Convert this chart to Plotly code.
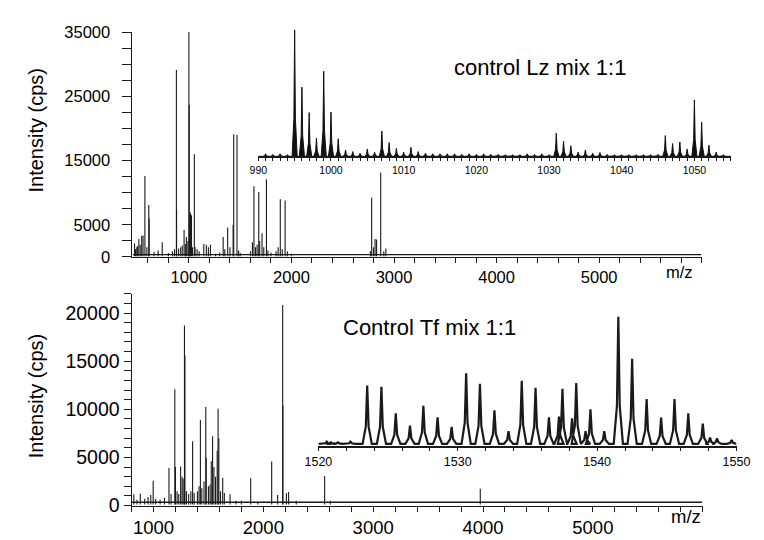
import plotly.graph_objects as go

# ---------------- data ----------------
# Top main spectrum (control Lz mix 1:1): m/z and intensity (cps)
lz_mz = [470, 480, 492, 500, 512, 525, 540, 553, 571, 590, 609, 612, 660, 700, 740, 800, 840, 860,
         878, 880, 900, 920, 935, 953, 965, 975, 990, 1000, 1003, 1008, 1016, 1025, 1035, 1053, 1060,
         1080, 1100, 1145, 1170, 1190, 1210, 1260, 1300, 1334, 1350, 1378, 1400, 1431, 1437, 1469,
         1485, 1500, 1600, 1619, 1634, 1650, 1665, 1681, 1690, 1713, 1730, 1756, 1770, 1800, 1850,
         1870, 1891, 1910, 1938, 1960, 2000, 2770, 2782, 2800, 2815, 2830, 2870, 2900, 2920]
lz_int = [2100, 1200, 1500, 1700, 2800, 1900, 3300, 3300, 12600, 1500, 8100, 6000, 800, 1000, 2300, 600, 900, 1200,
          29100, 7400, 1300, 1500, 1800, 4200, 2000, 3100, 2500, 35300, 23700, 7000, 6800, 6500, 1500, 16000, 1500,
          1200, 900, 2000, 1900, 1500, 1900, 500, 700, 3100, 1200, 4600, 1500, 5000, 19100, 19000,
          1000, 600, 900, 2300, 11000, 1500, 1900, 10100, 2500, 3700, 1500, 12100, 1000, 700, 900,
          1500, 9000, 1200, 8800, 900, 500, 900, 9200, 1500, 2800, 2700, 13100, 900, 1300]
lz_noise = 350

# Top inset (m/z 990-1055), relative heights
lz_zoom_mz = list(range(991, 1055))
lz_zoom_h = [8, 6, 8, 5, 397, 217, 137, 57, 267, 139, 55, 20, 15, 10, 23, 13, 79, 43, 25, 13,
             28, 15, 10, 8, 8, 8, 8, 6, 8, 6, 8, 6, 6, 5, 5, 5, 8, 6, 8, 5,
             73, 47, 33, 13, 20, 10, 12, 6, 5, 5, 5, 5, 5, 5, 6, 65, 40, 45, 23, 177,
             107, 35, 13, 5]

# Bottom main spectrum (Control Tf mix 1:1)
tf_mz = [821, 850, 880, 920, 950, 975, 997, 1020, 1060, 1100, 1141, 1160, 1194, 1200, 1215, 1230, 1247,
         1260, 1270, 1282, 1286, 1300, 1320, 1340, 1356, 1370, 1400, 1415, 1427, 1440, 1460, 1476, 1480,
         1500, 1515, 1526, 1538, 1550, 1565, 1580, 1588, 1595, 1610, 1630, 1645, 1697, 1750, 1800, 1885,
         1950, 2076, 2130, 2176, 2178, 2210, 2230, 2300, 2558, 2610, 3975]
tf_int = [1170, 600, 1230, 700, 900, 1100, 2570, 700, 600, 800, 3900, 1200, 12070, 4000, 1500, 1200, 4070,
          3000, 2800, 18700, 15600, 1500, 1200, 1500, 6670, 1300, 1500, 2000, 8900, 1800, 2500, 10240, 5000,
          2000, 2200, 4600, 7200, 4000, 3000, 5700, 10070, 7000, 1500, 2900, 1300, 1170, 500, 500, 2830,
          400, 4570, 1100, 20840, 10400, 1300, 1400, 500, 3070, 500, 1740]
tf_noise = 350

# Bottom inset (m/z 1520-1550) profile peaks, relative heights
tf_zoom_mz = [1520.6, 1520.9, 1521.4, 1522.3, 1523.5, 1524.52, 1525.55, 1526.57, 1527.53, 1528.55,
              1529.56, 1530.6, 1531.59, 1532.63, 1533.64, 1534.59, 1535.58, 1536.54, 1537.26, 1537.51,
              1538.2, 1538.5, 1539.17, 1539.52, 1540.51, 1541.52, 1542.51, 1543.55, 1544.59, 1545.55,
              1546.54, 1547.58, 1548.1, 1548.6, 1549.65]
tf_zoom_h = [12, 10, 10, 12, 187, 183, 100, 62, 124, 88,
             58, 225, 192, 110, 45, 202, 180, 88, 90, 177,
             85, 195, 45, 113, 45, 402, 270, 145, 87, 145,
             100, 68, 25, 22, 17]
tf_zoom_base = 5

# tick labels
lz_yticks = [0, 5000, 15000, 25000, 35000]
tf_yticks = [0, 5000, 10000, 15000, 20000]
mz_ticks = [1000, 2000, 3000, 4000, 5000]

# ---------------- helpers ----------------
LINE = '#1a1a1a'
FONT = 'Liberation Sans, Arial, sans-serif'


def sticks(mz, inten, base):
    xs, ys = [], []
    for m, i in zip(mz, inten):
        xs += [m, m, None]
        ys += [base * 0.3, i, None]
    return xs, ys


def triangles(mz, h, hw, base):
    xs, ys = [], []
    for m, v in zip(mz, h):
        xs += [m - hw, m - hw * 0.3, m, m + hw * 0.3, m + hw]
        ys += [base, base + (v - base) * 0.3, v, base + (v - base) * 0.3, base]
    return xs, ys


fig = go.Figure()

# top main
x, y = sticks(lz_mz, lz_int, lz_noise)
fig.add_trace(go.Scatter(x=[452, 5995], y=[lz_noise, lz_noise], mode='lines',
                         line=dict(color=LINE, width=1.3), xaxis='x', yaxis='y'))
fig.add_trace(go.Scatter(x=x, y=y, mode='lines', line=dict(color=LINE, width=1.1),
                         xaxis='x', yaxis='y', connectgaps=False))

# top inset
x, y = triangles(lz_zoom_mz, lz_zoom_h, 0.35, 0)
fig.add_trace(go.Scatter(x=[990] + x + [1055], y=[0] + y + [0], mode='lines', fill='tozeroy',
                         fillcolor='#111', line=dict(color='#111', width=1),
                         xaxis='x2', yaxis='y2'))

# bottom main
x, y = sticks(tf_mz, tf_int, tf_noise)
fig.add_trace(go.Scatter(x=[802, 5995], y=[tf_noise, tf_noise], mode='lines',
                         line=dict(color=LINE, width=1.3), xaxis='x3', yaxis='y3'))
fig.add_trace(go.Scatter(x=x, y=y, mode='lines', line=dict(color=LINE, width=1.1),
                         xaxis='x3', yaxis='y3', connectgaps=False))

# bottom inset
x, y = triangles(tf_zoom_mz, tf_zoom_h, 0.33, tf_zoom_base)
fig.add_trace(go.Scatter(x=[1520] + x + [1550], y=[tf_zoom_base] + y + [tf_zoom_base], mode='lines',
                         line=dict(color='#1a1a1a', width=2.2), xaxis='x4', yaxis='y4'))

W, H = 764, 540


def px(v):
    return v / W


def py(v):
    return 1 - v / H


common = dict(showgrid=False, zeroline=False, showline=True, linecolor=LINE, ticks='outside',
              tickcolor=LINE, color='black')

fig.update_layout(
    width=W, height=H, margin=dict(l=0, r=0, t=0, b=0),
    paper_bgcolor='white', plot_bgcolor='rgba(0,0,0,0)', showlegend=False,
    font=dict(family=FONT, color='black'),
    xaxis=dict(domain=[px(123), px(714)], range=[450, 6001], anchor='y', tickmode='array',
               tickvals=mz_ticks, ticktext=[str(v) for v in mz_ticks], ticklen=5, linewidth=1,
               tickfont=dict(size=16.5),
               minor=dict(tickmode='linear', tick0=0, dtick=200, ticks='outside', ticklen=5, tickcolor=LINE),
               **common),
    yaxis=dict(domain=[py(257.5), py(24)], range=[0, 35000], anchor='x', tickmode='array',
               tickvals=lz_yticks, ticktext=[str(v) for v in lz_yticks], ticklen=9, linewidth=1,
               tickfont=dict(size=16.5), ticklabelstandoff=9,
               minor=dict(tickmode='linear', tick0=0, dtick=2500, ticks='outside', ticklen=9, tickcolor=LINE),
               **common),
    xaxis2=dict(domain=[px(253.6), px(744)], range=[990, 1055], anchor='y2', tickmode='linear',
                tick0=990, dtick=10, ticklen=3, linewidth=2, tickfont=dict(size=10.5),
                minor=dict(tickmode='linear', tick0=990, dtick=1, ticks='outside', ticklen=3, tickcolor=LINE),
                **common),
    yaxis2=dict(domain=[py(153), py(21.5)], range=[0, 397], anchor='x2', visible=False),
    xaxis3=dict(domain=[px(122), px(715)], range=[800, 6001], anchor='y3', tickmode='array',
                tickvals=mz_ticks, ticktext=[str(v) for v in mz_ticks], ticklen=5, linewidth=1,
                tickfont=dict(size=18.5),
                minor=dict(tickmode='linear', tick0=0, dtick=200, ticks='outside', ticklen=5, tickcolor=LINE),
                **common),
    yaxis3=dict(domain=[py(515.7), py(295.7)], range=[0, 22000], anchor='x3', tickmode='array',
                tickvals=tf_yticks, ticktext=[str(v) for v in tf_yticks], ticklen=7, linewidth=1,
                tickfont=dict(size=19.5),
                minor=dict(tickmode='linear', tick0=0, dtick=1000, ticks='outside', ticklen=7, tickcolor=LINE),
                **common),
    xaxis4=dict(domain=[px(316), px(750)], range=[1520, 1550], anchor='y4', tickmode='linear',
                tick0=1520, dtick=10, ticklen=4, linewidth=1.5, tickfont=dict(size=12.5),
                minor=dict(tickmode='linear', tick0=1520, dtick=2, ticks='outside', ticklen=4, tickcolor=LINE),
                **common),
    yaxis4=dict(domain=[py(453.3), py(319.3)], range=[0, 402], anchor='x4', visible=False),
)

ann = [
    dict(text='control Lz mix 1:1', x=px(546), y=py(61), size=22, angle=0),
    dict(text='Control Tf mix 1:1', x=px(431), y=py(331), size=22, angle=0),
    dict(text='Intensity (cps)', x=px(23), y=py(126), size=20, angle=-90),
    dict(text='Intensity (cps)', x=px(23), y=py(402), size=20, angle=-90),
    dict(text='m/z', x=px(691), y=py(273), size=16.5, angle=0),
    dict(text='m/z', x=px(698), y=py(527), size=18.5, angle=0),
]
for a in ann:
    fig.add_annotation(text=a['text'], x=a['x'], y=a['y'], xref='paper', yref='paper',
                       xanchor='center', yanchor='middle', showarrow=False, textangle=a['angle'],
                       font=dict(family=FONT, size=a['size'], color='black'))

fig.write_html('out.html')
